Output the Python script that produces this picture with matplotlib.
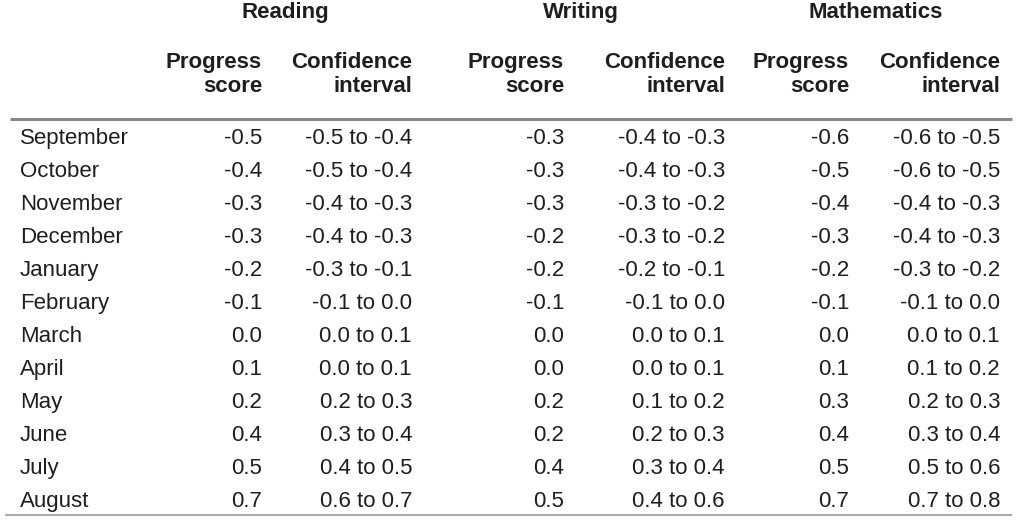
import matplotlib.pyplot as plt

months = ["September", "October", "November", "December", "January", "February",
          "March", "April", "May", "June", "July", "August"]
subjects = ["Reading", "Writing", "Mathematics"]

reading_score = ["-0.5", "-0.4", "-0.3", "-0.3", "-0.2", "-0.1", "0.0", "0.1", "0.2", "0.4", "0.5", "0.7"]
reading_ci = ["-0.5 to -0.4", "-0.5 to -0.4", "-0.4 to -0.3", "-0.4 to -0.3", "-0.3 to -0.1", "-0.1 to 0.0",
              "0.0 to 0.1", "0.0 to 0.1", "0.2 to 0.3", "0.3 to 0.4", "0.4 to 0.5", "0.6 to 0.7"]
writing_score = ["-0.3", "-0.3", "-0.3", "-0.2", "-0.2", "-0.1", "0.0", "0.0", "0.2", "0.2", "0.4", "0.5"]
writing_ci = ["-0.4 to -0.3", "-0.4 to -0.3", "-0.3 to -0.2", "-0.3 to -0.2", "-0.2 to -0.1", "-0.1 to 0.0",
              "0.0 to 0.1", "0.0 to 0.1", "0.1 to 0.2", "0.2 to 0.3", "0.3 to 0.4", "0.4 to 0.6"]
maths_score = ["-0.6", "-0.5", "-0.4", "-0.3", "-0.2", "-0.1", "0.0", "0.1", "0.3", "0.4", "0.5", "0.7"]
maths_ci = ["-0.6 to -0.5", "-0.6 to -0.5", "-0.4 to -0.3", "-0.4 to -0.3", "-0.3 to -0.2", "-0.1 to 0.0",
            "0.0 to 0.1", "0.1 to 0.2", "0.2 to 0.3", "0.3 to 0.4", "0.5 to 0.6", "0.7 to 0.8"]

plt.rcParams['font.family'] = ['Liberation Sans', 'DejaVu Sans']
txt = '#1e1e1e'
fs = 16

fig = plt.figure(figsize=(10.24, 5.28), dpi=100)
ax = fig.add_axes([0, 0, 1, 1])
ax.set_xlim(0, 1024)
ax.set_ylim(528, 0)
ax.axis('off')

# column right edges for each subject: (score, ci)
col_right = [(262, 412), (564, 725), (849, 1000)]
group_x = [285, 581, 876]
columns = [(reading_score, reading_ci), (writing_score, writing_ci), (maths_score, maths_ci)]

for name, gx in zip(subjects, group_x):
    ax.text(gx, 18, name, ha='center', va='baseline', fontsize=fs, fontweight='bold', color=txt)

for xs, xc in col_right:
    ax.text(xs, 68, "Progress", ha='right', va='baseline', fontsize=fs, fontweight='bold', color=txt)
    ax.text(xs, 92, "score", ha='right', va='baseline', fontsize=fs, fontweight='bold', color=txt)
    ax.text(xc, 68, "Confidence", ha='right', va='baseline', fontsize=fs, fontweight='bold', color=txt)
    ax.text(xc, 92, "interval", ha='right', va='baseline', fontsize=fs, fontweight='bold', color=txt)

ax.plot([10, 1012], [119, 119], color='#888888', lw=2.2, solid_capstyle='butt')
ax.plot([5, 1012], [515, 515], color='#aaaaaa', lw=1.5, solid_capstyle='butt')

for i, m in enumerate(months):
    y = 144 + i * 33
    ax.text(20, y, m, ha='left', va='baseline', fontsize=fs, color=txt)
    for (sc, ci), (xs, xc) in zip(columns, col_right):
        ax.text(xs, y, sc[i], ha='right', va='baseline', fontsize=fs, color=txt)
        ax.text(xc, y, ci[i], ha='right', va='baseline', fontsize=fs, color=txt)

fig.savefig('out.png', dpi=100, facecolor='white')
